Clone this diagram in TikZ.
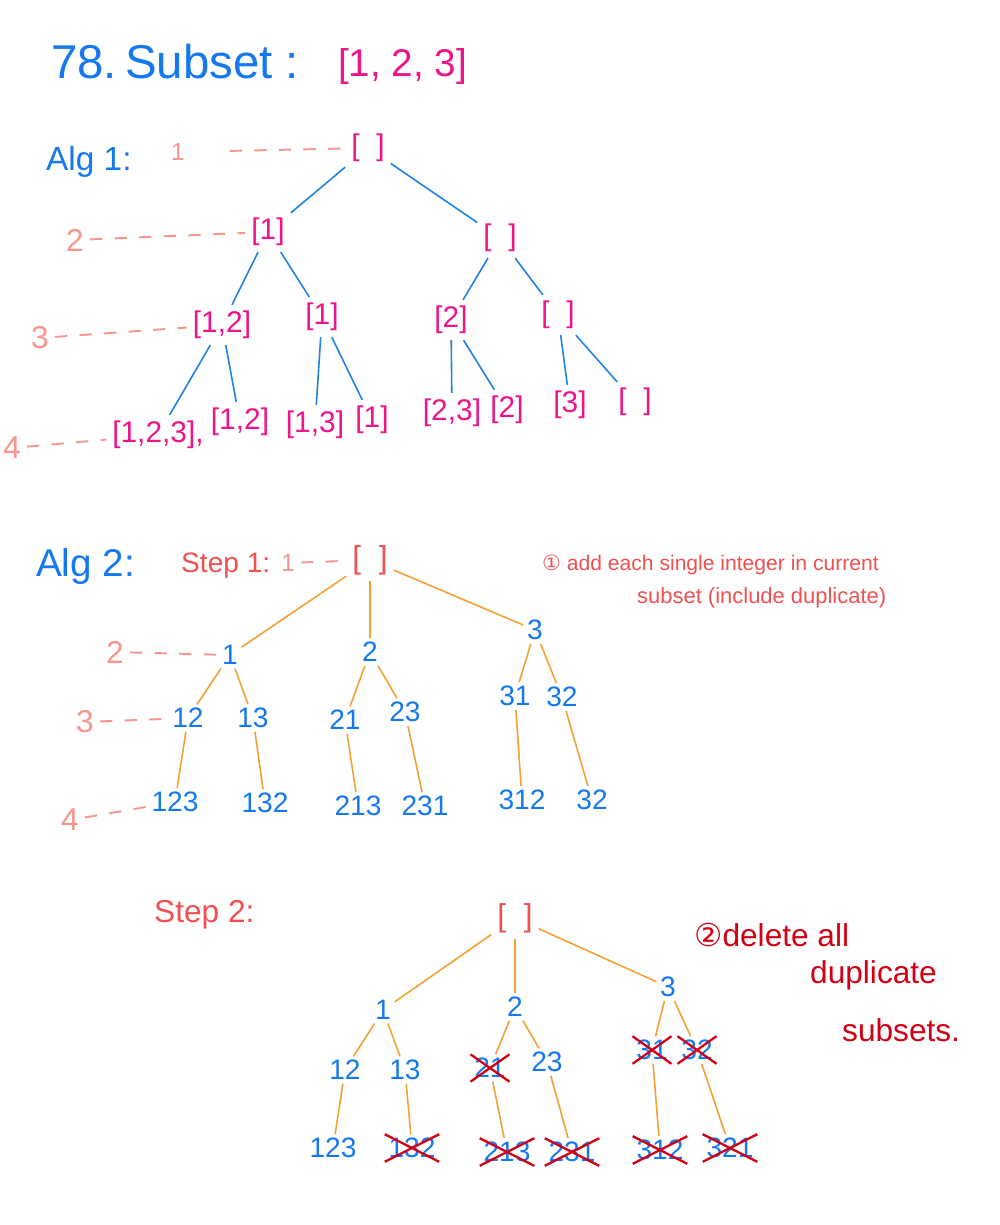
\documentclass[tikz,border=0pt]{standalone}
\usepackage{fontspec}
\setmainfont{Liberation Sans}
\newfontfamily\symfont{DejaVu Sans}
\usepackage{tikz}
\definecolor{penblue}{RGB}{20, 120, 240}
\definecolor{penpink}{RGB}{238, 20, 140}
\definecolor{salmon}{RGB}{246, 150, 140}
\definecolor{coral}{RGB}{240, 80, 80}
\definecolor{edgeblue}{RGB}{30, 130, 230}
\definecolor{edgeorange}{RGB}{245, 160, 50}
\definecolor{inkred}{RGB}{210, 0, 20}

\begin{document}
\begin{tikzpicture}[x = 0.02cm, y = -0.02cm,
	setnode/.style = {text = penpink, font = \fontsize{17}{17}\selectfont},
	numnode/.style = {text = penblue, inner sep = 2pt, font = \fontsize{16}{16}\selectfont},
	rootnode/.style = {text = coral, font = \fontsize{18}{18}\selectfont},
	lvlnum/.style = {text = salmon, font = \fontsize{18}{18}\selectfont},
	guide/.style = {draw = salmon, line width = 1.1pt, dash pattern = on 7pt off 7pt},
	bluelink/.style = {draw = edgeblue, line width = 0.9pt},
	orangelink/.style = {draw = edgeorange, line width = 0.9pt},
	strike/.style = {draw = inkred, line width = 1.3pt}]
			\useasboundingbox (0,0) rectangle (1000,1225);
			\fill[white] (0,0) rectangle (1000,1225);
			\node (title) at (45,62) [anchor = west, text = penblue, font = \fontsize{27}{27}\selectfont] {78.\,Subset :};
			\node (input) at (332,66) [anchor = west, text = penpink, font = \fontsize{22}{22}\selectfont] {[1, 2, 3]};
			\node (alga) at (40,162) [anchor = west, text = penblue, font = \fontsize{19}{19}\selectfont] {Alg 1:};
			\node (l1) at (178,152) [lvlnum, font = \fontsize{14}{14}\selectfont] {1};
			\node (l2) at (75,240) [lvlnum] {2};
			\node (l3) at (40,338) [lvlnum] {3};
			\node (l4) at (12,448) [lvlnum] {4};
			\node (n) at (368,148) [setnode] {[\ \ ]};
			\node (n1) at (268,232) [setnode] {[1]};
			\node (n0) at (500,238) [setnode] {[\ \ ]};
			\node (n12) at (222,325) [setnode] {[1,2]};
			\node (n10) at (322,317) [setnode] {[1]};
			\node (n02) at (451,320) [setnode] {[2]};
			\node (n00) at (558,315) [setnode] {[\ \ ]};
			\node (n123) at (158,435) [setnode] {[1,2,3],};
			\node (n120) at (240,422) [setnode] {[1,2]};
			\node (n103) at (315,425) [setnode] {[1,3]};
			\node (n100) at (372,420) [setnode] {[1]};
			\node (n023) at (452,413) [setnode] {[2,3]};
			\node (n020) at (507,410) [setnode] {[2]};
			\node (n003) at (570,405) [setnode] {[3]};
			\node (n000) at (635,402) [setnode] {[\ \ ]};
			\draw[guide, shorten <= 22pt] (l1) -- (n);
			\draw[guide] (l2) -- (n1);
			\draw[guide] (l3) -- (n12);
			\draw[guide] (l4) -- (n123);
			\draw[bluelink] (n) edge (n1);
			\draw[bluelink] (n) edge (n0);
			\draw[bluelink] (n1) edge (n12);
			\draw[bluelink] (n1) edge (n10);
			\draw[bluelink] (n0) edge (n02);
			\draw[bluelink] (n0) edge (n00);
			\draw[bluelink] (n12) edge (n123);
			\draw[bluelink] (n12) edge (n120);
			\draw[bluelink] (n10) edge (n103);
			\draw[bluelink] (n10) edge (n100);
			\draw[bluelink] (n02) edge (n023);
			\draw[bluelink] (n02) edge (n020);
			\draw[bluelink] (n00) edge (n003);
			\draw[bluelink] (n00) edge (n000);
			\node (algb) at (30,566) [anchor = west, text = penblue, font = \fontsize{22}{22}\selectfont] {Alg 2:};
			\node (stepa) at (175,566) [anchor = west, text = coral, font = \fontsize{16}{16}\selectfont] {Step 1:};
			\node (notea) at (536,565) [anchor = west, text = coral, font = \fontsize{12}{12}\selectfont] {{\symfont ①} add each single integer in current};
			\node (noteb) at (631,598) [anchor = west, text = coral, font = \fontsize{12.5}{12.5}\selectfont] {subset (include duplicate)};
			\node (k1) at (288,563) [lvlnum, font = \fontsize{14}{14}\selectfont] {1};
			\node (k2) at (115,652) [lvlnum] {2};
			\node (k3) at (85,722) [lvlnum] {3};
			\node (k4) at (70,820) [lvlnum] {4};
			\node (t) at (370,560) [rootnode] {[\ \ ]};
			\node (t1) at (230,655) [numnode] {1};
			\node (t2) at (370,652) [numnode] {2};
			\node (t3) at (535,630) [numnode] {3};
			\node (t12) at (188,718) [numnode] {12};
			\node (t13) at (253,718) [numnode] {13};
			\node (t21) at (345,720) [numnode] {21};
			\node (t23) at (405,712) [numnode] {23};
			\node (t31) at (515,696) [numnode] {31};
			\node (t32) at (562,697) [numnode] {32};
			\node (t123) at (175,802) [numnode] {123};
			\node (t132) at (265,803) [numnode] {132};
			\node (t213) at (358,806) [numnode] {213};
			\node (t231) at (425,806) [numnode] {231};
			\node (t312) at (522,800) [numnode] {312};
			\node (t32b) at (592,800) [numnode] {32};
			\draw[guide] (k1) -- (t);
			\draw[guide] (k2) -- (t1);
			\draw[guide] (k3) -- (t12);
			\draw[guide] (k4) -- (t123);
			\draw[orangelink] (t) edge (t1);
			\draw[orangelink] (t) edge (t2);
			\draw[orangelink] (t) edge (t3);
			\draw[orangelink] (t1) edge (t12);
			\draw[orangelink] (t1) edge (t13);
			\draw[orangelink] (t2) edge (t21);
			\draw[orangelink] (t2) edge (t23);
			\draw[orangelink] (t3) edge (t31);
			\draw[orangelink] (t3) edge (t32);
			\draw[orangelink] (t12) edge (t123);
			\draw[orangelink] (t13) edge (t132);
			\draw[orangelink] (t21) edge (t213);
			\draw[orangelink] (t23) edge (t231);
			\draw[orangelink] (t31) edge (t312);
			\draw[orangelink] (t32) edge (t32b);
			\node (stepb) at (148,915) [anchor = west, text = coral, font = \fontsize{18}{18}\selectfont] {Step 2:};
			\node (notec) at (688,935) [anchor = west, text = inkred, font = \fontsize{18}{18}\selectfont] {{\symfont ②}delete all};
			\node (noted) at (804,975) [anchor = west, text = inkred, font = \fontsize{18}{18}\selectfont] {duplicate};
			\node (notee) at (836,1030) [anchor = west, text = inkred, font = \fontsize{18}{18}\selectfont] {subsets.};
			\node (u) at (515,918) [rootnode] {[\ \ ]};
			\node (u1) at (383,1010) [numnode] {1};
			\node (u2) at (515,1007) [numnode] {2};
			\node (u3) at (668,987) [numnode] {3};
			\node (u12) at (345,1070) [numnode] {12};
			\node (u13) at (405,1070) [numnode] {13};
			\node (u21) at (490,1068) [numnode] {21};
			\node (u23) at (547,1062) [numnode] {23};
			\node (u31) at (652,1050) [numnode] {31};
			\node (u32) at (697,1050) [numnode] {32};
			\node (u123) at (333,1148) [numnode] {123};
			\node (u132) at (412,1148) [numnode] {132};
			\node (u213) at (507,1152) [numnode] {213};
			\node (u231) at (572,1152) [numnode] {231};
			\node (u312) at (660,1150) [numnode] {312};
			\node (u321) at (730,1148) [numnode] {321};
			\draw[orangelink] (u) edge (u1);
			\draw[orangelink] (u) edge (u2);
			\draw[orangelink] (u) edge (u3);
			\draw[orangelink] (u1) edge (u12);
			\draw[orangelink] (u1) edge (u13);
			\draw[orangelink] (u2) edge (u21);
			\draw[orangelink] (u2) edge (u23);
			\draw[orangelink] (u3) edge (u31);
			\draw[orangelink] (u3) edge (u32);
			\draw[orangelink] (u12) edge (u123);
			\draw[orangelink] (u13) edge (u132);
			\draw[orangelink] (u21) edge (u213);
			\draw[orangelink] (u23) edge (u231);
			\draw[orangelink] (u31) edge (u312);
			\draw[orangelink] (u32) edge (u321);
			\foreach \c in {u21, u31, u32, u132, u213, u231, u312, u321}
				\draw[strike] (\c.south west) -- (\c.north east) (\c.north west) -- (\c.south east);
			\end{tikzpicture}
\end{document}
